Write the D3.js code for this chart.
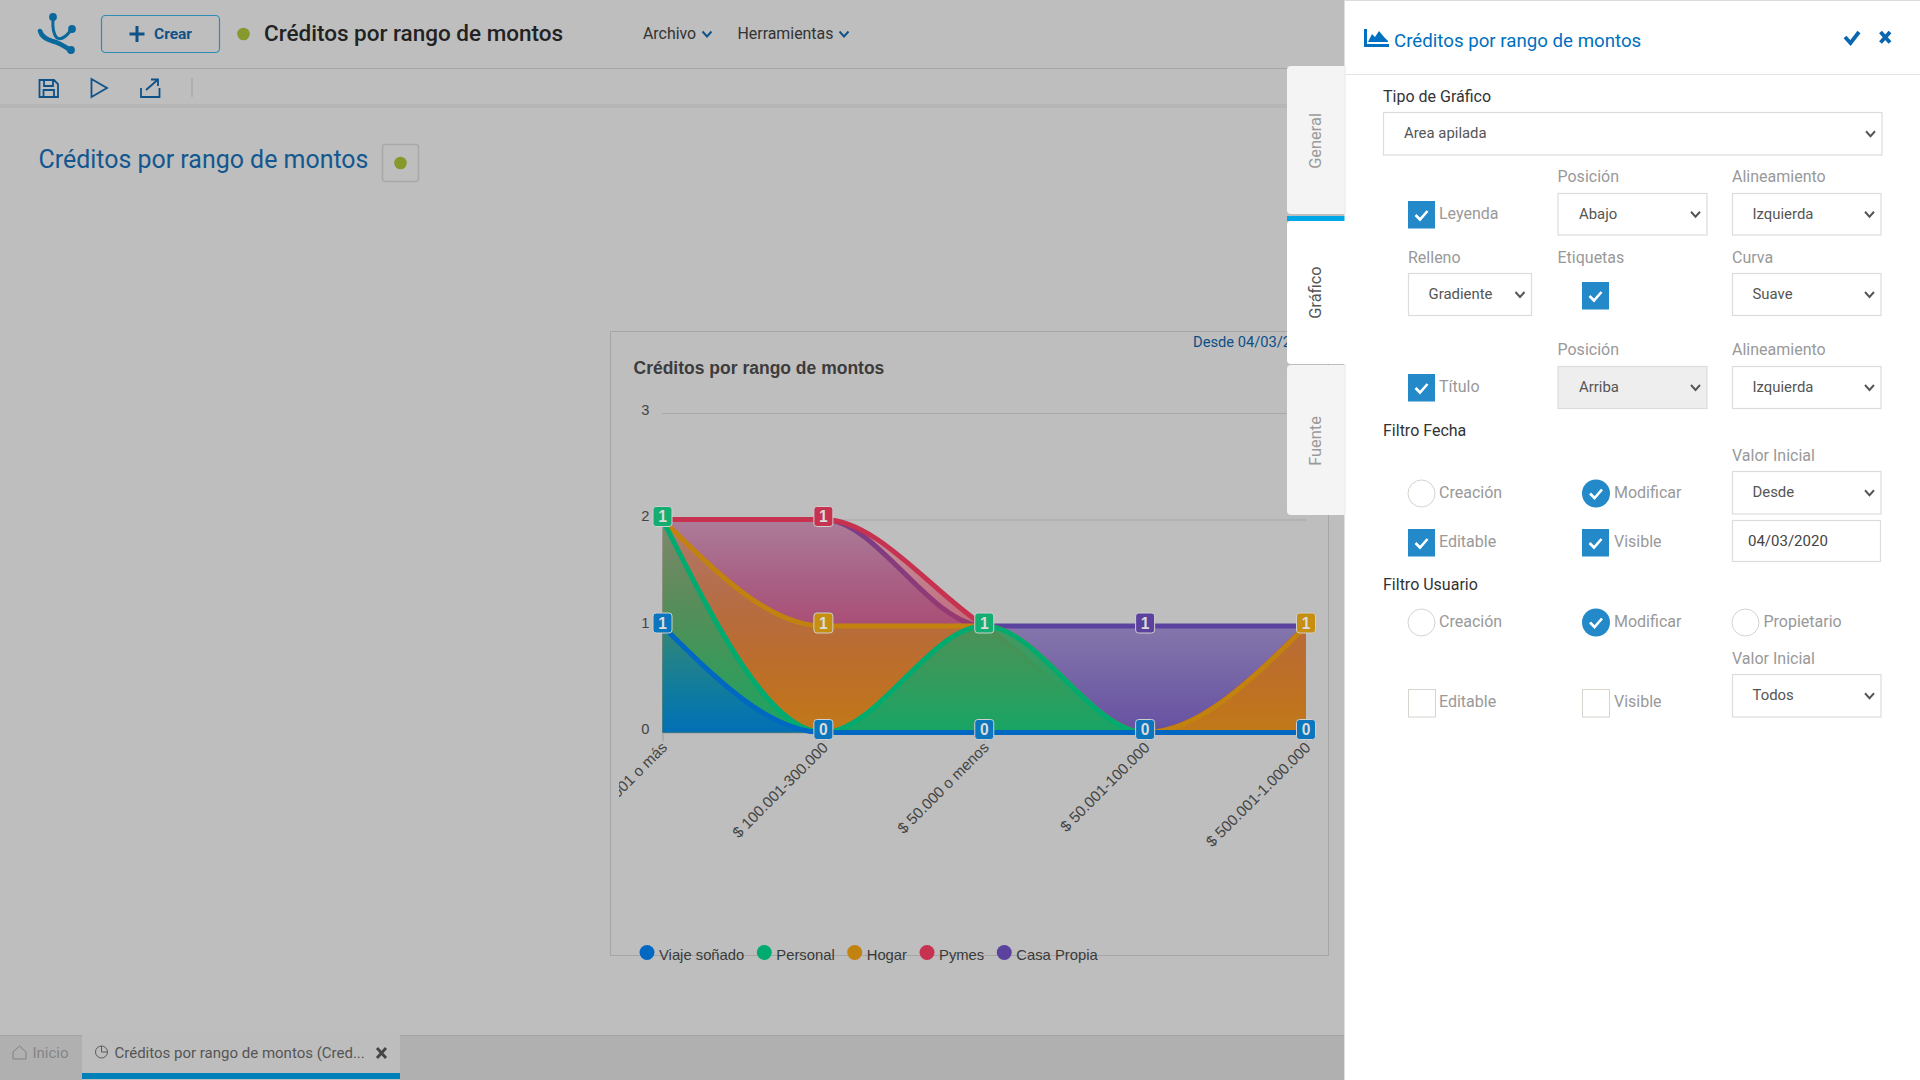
<!DOCTYPE html>
<html>
<head>
<meta charset="utf-8">
<script src="https://cdnjs.cloudflare.com/ajax/libs/d3/7.8.5/d3.min.js"></script>
<style>
  html, body { margin: 0; padding: 0; background: #bebebe; overflow: hidden; }
  svg { display: block; font-family: Roboto, sans-serif; }
  .chart text { font-family: "Liberation Sans", Arial, sans-serif; }
</style>
</head>
<body>
<div id="page"></div>
<script>
const svg = d3.select('#page').append('svg').attr('width', 1920).attr('height', 1080);
const defs = svg.append('defs');

// chart data, one row per category
const keys = ['Viaje soñado', 'Personal', 'Hogar', 'Pymes', 'Casa Propia'];
const colors = { 'Viaje soñado': '#0068c2', 'Personal': '#00ab70', 'Hogar': '#c2820f', 'Pymes': '#c6324f', 'Casa Propia': '#5a429e' };
const badgeColors = { 'Viaje soñado': '#0b75bd', 'Personal': '#14ad72', 'Hogar': '#c68f10', 'Pymes': '#c6324f', 'Casa Propia': '#5a429e' };
const dataset = [
  { cat: '$ 1.000.001 o más',   'Viaje soñado': 1, 'Personal': 1, 'Hogar': 0, 'Pymes': 0, 'Casa Propia': 0 },
  { cat: '$ 100.001-300.000',   'Viaje soñado': 0, 'Personal': 0, 'Hogar': 1, 'Pymes': 1, 'Casa Propia': 0 },
  { cat: '$ 50.000 o menos',    'Viaje soñado': 0, 'Personal': 1, 'Hogar': 0, 'Pymes': 0, 'Casa Propia': 0 },
  { cat: '$ 50.001-100.000',    'Viaje soñado': 0, 'Personal': 0, 'Hogar': 0, 'Pymes': 0, 'Casa Propia': 1 },
  { cat: '$ 500.001-1.000.000', 'Viaje soñado': 0, 'Personal': 0, 'Hogar': 1, 'Pymes': 0, 'Casa Propia': 0 }
];

// ---------- page behind the panel ----------
const back = svg.append('g');
back.append('rect').attr('width', 1920).attr('height', 1080).attr('fill', '#bebebe');

function label(g, x, y, txt, size, color, weight) {
  return g.append('text').attr('x', x).attr('y', y).attr('dy', '0.35em')
    .attr('font-size', size).attr('fill', color).attr('font-weight', weight || 400).text(txt);
}

back.append('rect').attr('x', 0).attr('y', 104).attr('width', 1344).attr('height', 4).attr('fill', '#b6b6b6');
back.append('rect').attr('x', 0).attr('y', 68).attr('width', 1344).attr('height', 1).attr('fill', '#a6a6a6');

// logo
const logo = back.append('g').attr('stroke', '#0a689c').attr('fill', 'none').attr('stroke-width', 3).attr('stroke-linecap', 'round');
logo.append('path').attr('d', 'M53 19 Q52 33 57 38 Q63 41 71 30');
logo.append('path').attr('stroke-width', 4.6).attr('d', 'M40 31 Q42 38 52 41 Q60 43 70 50');
logo.selectAll('circle').data([[53, 17], [72, 29], [71, 50]]).enter().append('circle')
  .attr('cx', d => d[0]).attr('cy', d => d[1]).attr('r', 2.4).attr('fill', '#0a689c');

back.append('rect').attr('x', 101.5).attr('y', 15.5).attr('width', 118).attr('height', 37).attr('rx', 4)
  .attr('fill', 'none').attr('stroke', '#2f8db5').attr('stroke-width', 1.2);
back.append('path').attr('d', 'M137 26V42M129.5 34H144.5').attr('stroke', '#0f5288').attr('stroke-width', 3).attr('fill', 'none');
label(back, 154, 34, 'Crear', 15.5, '#0f5288', 700);
back.append('circle').attr('cx', 243.5).attr('cy', 34).attr('r', 6.3).attr('fill', '#86992d');
label(back, 264, 33.5, 'Créditos por rango de montos', 22.5, '#222', 500);
label(back, 643, 33.5, 'Archivo', 15.9, '#333');
label(back, 737.5, 33.5, 'Herramientas', 15.9, '#333');
function chevron(g, cx, cy, color) {
  g.append('path').attr('d', `M${cx - 4.5} ${cy - 2.5}L${cx} ${cy + 2.5}L${cx + 4.5} ${cy - 2.5}`)
    .attr('fill', 'none').attr('stroke', color).attr('stroke-width', 1.9);
}
chevron(back, 707, 34, '#0f5288');
chevron(back, 844, 34, '#0f5288');

// toolbar icons
const tools = back.append('g').attr('fill', 'none').attr('stroke', '#0f5288').attr('stroke-width', 1.8);
tools.append('path').attr('d', 'M39.5 80H54L58 84V97H39.5ZM44 80V86H53V80M43.5 97V90H54V97');
tools.append('path').attr('d', 'M91.5 79L107 88L91.5 97Z');
tools.append('path').attr('d', 'M141 88V97H159.5V88M146 90L158 79.5M151 79.5H158V86');
back.append('rect').attr('x', 191.5).attr('y', 78).attr('width', 1).attr('height', 19).attr('fill', '#a0a0a0');

label(back, 38.5, 159.5, 'Créditos por rango de montos', 24.95, '#12578f');
back.append('rect').attr('x', 382.5).attr('y', 144.5).attr('width', 36).attr('height', 37).attr('rx', 3)
  .attr('fill', 'none').attr('stroke', '#a8a8a8').attr('stroke-width', 1.5);
back.append('circle').attr('cx', 400.5).attr('cy', 163).attr('r', 6.3).attr('fill', '#86992d');

// ---------- chart ----------
const chart = back.append('g').attr('class', 'chart');
chart.append('rect').attr('x', 610.5).attr('y', 331.5).attr('width', 718).attr('height', 624)
  .attr('fill', 'none').attr('stroke', '#a6a6a6');
defs.append('clipPath').attr('id', 'chartClip').append('rect')
  .attr('x', 619).attr('y', 332).attr('width', 708).attr('height', 622);

chart.append('text').attr('x', 633.5).attr('y', 368).attr('dy', '0.35em')
  .attr('font-size', 17.5).attr('font-weight', 700).attr('fill', '#3c3c3c').text('Créditos por rango de montos');
chart.append('text').attr('x', 1193).attr('y', 342).attr('dy', '0.35em')
  .attr('font-size', 14.7).attr('fill', '#0c4f87').style('font-family', 'Roboto').text('Desde 04/03/2020');

const xScale = d3.scalePoint().domain(dataset.map(d => d.cat)).range([662.5, 1306]);
const yScale = d3.scaleLinear().domain([0, 3]).range([732.5, 413]);

const yAxis = chart.append('g').attr('transform', 'translate(662.5,0)')
  .call(d3.axisLeft(yScale).tickValues([0, 1, 2, 3]).tickFormat(d3.format('d')).tickSize(-643.5).tickPadding(13));
yAxis.select('.domain').remove();
yAxis.selectAll('line').attr('stroke', '#a8a8a8');
yAxis.selectAll('text').attr('font-size', 14.7).attr('fill', '#444').attr('dy', '0.1em').attr('font-family', null);

const xAxis = chart.append('g').attr('clip-path', 'url(#chartClip)').append('g').attr('transform', 'translate(0,732.5)')
  .call(d3.axisBottom(xScale).tickSize(9));
xAxis.select('.domain').attr('stroke', '#a8a8a8');
xAxis.selectAll('line').attr('stroke', '#a8a8a8');
xAxis.selectAll('text').attr('font-size', 15.2).attr('fill', '#444').attr('font-family', null)
  .attr('text-anchor', 'end').attr('y', 0).attr('dy', 0)
  .attr('transform', 'translate(5,16) rotate(-45)');

const stacked = d3.stack().keys(keys)(dataset);

// every fill runs down to the baseline, so the colours build up under the top series
const area = d3.area().curve(d3.curveMonotoneX)
  .x(d => xScale(d.data.cat)).y0(yScale(0)).y1(d => yScale(d[1]));
const line = d3.line().curve(d3.curveMonotoneX)
  .x(d => xScale(d.data.cat)).y(d => yScale(d[1]));

stacked.forEach((s, i) => {
  const g = defs.append('linearGradient').attr('id', 'grad' + i).attr('x1', 0).attr('y1', 0).attr('x2', 0).attr('y2', 1);
  g.append('stop').attr('offset', '0%').attr('stop-color', colors[s.key]).attr('stop-opacity', 0.28);
  g.append('stop').attr('offset', '100%').attr('stop-color', colors[s.key]).attr('stop-opacity', 0.88);
});

// first series goes on top, so draw them backwards
const seriesG = chart.selectAll('.serie').data(stacked.slice().reverse()).enter().append('g').attr('class', 'serie');
seriesG.append('path').attr('d', area).attr('fill', d => `url(#grad${d.index})`);
seriesG.append('path').attr('d', line).attr('fill', 'none')
  .attr('stroke', d => colors[d.key]).attr('stroke-width', 5);

// at each stacked height only one label survives: biggest value, then first series
const points = stacked.flatMap(s => s.map(d => ({ key: s.key, index: s.index, cat: d.data.cat, top: d[1], value: d[1] - d[0] })));
const groups = d3.groups(points, d => d.cat + '|' + d.top);
const badges = groups.map(([, pts]) => pts.slice().sort((a, b) => d3.descending(a.value, b.value) || a.index - b.index)[0]);

const badge = chart.selectAll('.badge').data(badges).enter().append('g').attr('class', 'badge')
  .attr('transform', d => `translate(${xScale(d.cat)},${yScale(d.top) - 3})`);
badge.append('rect').attr('x', -9.5).attr('y', -10).attr('width', 19).attr('height', 20).attr('rx', 3)
  .attr('fill', d => badgeColors[d.key]).attr('stroke', '#cfcfcf').attr('stroke-width', 1);
badge.append('text').attr('text-anchor', 'middle').attr('dy', '0.36em').attr('font-size', 15.6)
  .attr('font-weight', 700).attr('fill', '#dcdcdc').text(d => d.value);

// legend
let cursor = 647;
keys.forEach(k => {
  const item = chart.append('g');
  item.append('circle').attr('cx', cursor).attr('cy', 952.5).attr('r', 7.5).attr('fill', colors[k]);
  const t = item.append('text').attr('x', cursor + 12).attr('y', 955).attr('dy', '0.35em')
    .attr('font-size', 14.8).attr('fill', '#3a3a3a').text(k);
  cursor += 12 + t.node().getComputedTextLength() + 20;
});

// ---------- bottom tabs ----------
back.append('rect').attr('x', 0).attr('y', 1035).attr('width', 1344).attr('height', 45).attr('fill', '#b0b0b0');
back.append('rect').attr('x', 0).attr('y', 1035).attr('width', 1344).attr('height', 1).attr('fill', '#a4a4a4');
back.append('rect').attr('x', 82).attr('y', 1034).attr('width', 318).attr('height', 46).attr('fill', '#bdbdbd');
back.append('rect').attr('x', 82).attr('y', 1073).attr('width', 318).attr('height', 6).attr('fill', '#0080b8');
back.append('path').attr('d', 'M13 1052L19.5 1046L26 1052V1059H13Z').attr('fill', 'none').attr('stroke', '#808080').attr('stroke-width', 1);
label(back, 32.5, 1053, 'Inicio', 15, '#858585');
back.append('circle').attr('cx', 101.5).attr('cy', 1052).attr('r', 6).attr('fill', 'none').attr('stroke', '#5c5c5c').attr('stroke-width', 1);
back.append('path').attr('d', 'M101.5 1046V1052H107.5').attr('fill', 'none').attr('stroke', '#5c5c5c').attr('stroke-width', 1);
label(back, 114.5, 1053, 'Créditos por rango de montos (Cred...', 15, '#555');
back.append('path').attr('d', 'M377 1048L386 1058M386 1048L377 1058').attr('stroke', '#444').attr('stroke-width', 2.8);

// ---------- side panel ----------
const panel = svg.append('g');

// vertical tabs sit behind the panel edge
[
  { y: 66, h: 148, fill: '#f3f4f3', txt: 'General', color: '#9a9a9a' },
  { y: 221, h: 143, fill: '#ffffff', txt: 'Gráfico', color: '#555' },
  { y: 365, h: 150, fill: '#f3f4f3', txt: 'Fuente', color: '#9a9a9a' }
].forEach(t => {
  panel.append('rect').attr('x', 1287).attr('y', t.y).attr('width', 62).attr('height', t.h).attr('rx', 4).attr('fill', t.fill);
  panel.append('text').attr('transform', `translate(1315.5,${t.y + t.h / 2 + (t.txt === 'Gráfico' ? 0 : 1)}) rotate(-90)`)
    .attr('text-anchor', 'middle').attr('dy', '0.35em').attr('font-size', 16.4).attr('fill', t.color).text(t.txt);
});
panel.append('rect').attr('x', 1287).attr('y', 216).attr('width', 58).attr('height', 5).attr('fill', '#00a8e8');

panel.append('rect').attr('x', 1344.5).attr('y', 0).attr('width', 576).attr('height', 1080).attr('fill', '#fff');
panel.append('rect').attr('x', 1344.5).attr('y', 66).attr('width', 1).attr('height', 148).attr('fill', '#e6e6e6');
panel.append('rect').attr('x', 1344.5).attr('y', 365).attr('width', 1).attr('height', 150).attr('fill', '#e6e6e6');
panel.append('rect').attr('x', 1344.5).attr('y', 0).attr('width', 576).attr('height', 1).attr('fill', '#dcdcdc');
panel.append('rect').attr('x', 1344.5).attr('y', 74).attr('width', 576).attr('height', 1).attr('fill', '#e4e4e4');
panel.append('path').attr('d', 'M1364 29V47H1389V44H1367V29ZM1368 42L1372 34L1375 37L1379 31L1384 37L1388 41V42Z').attr('fill', '#0070c0');
label(panel, 1394, 40.5, 'Créditos por rango de montos', 18.7, '#0070c0');
panel.append('path').attr('d', 'M1845 37L1850.5 43L1859 32').attr('fill', 'none').attr('stroke', '#0b66b0').attr('stroke-width', 3.8);
panel.append('path').attr('d', 'M1880.5 32L1890 42.5M1890 32L1880.5 42.5').attr('stroke', '#0b66b0').attr('stroke-width', 3.8);

// form labels
[
  [1383, 96.8, 'Tipo de Gráfico', '#333'], [1383, 430.8, 'Filtro Fecha', '#333'], [1383, 584.8, 'Filtro Usuario', '#333'],
  [1557.5, 176.8, 'Posición', '#999'], [1732, 176.8, 'Alineamiento', '#999'],
  [1408, 257.8, 'Relleno', '#999'], [1557.5, 257.8, 'Etiquetas', '#999'], [1732, 257.8, 'Curva', '#999'],
  [1557.5, 349.8, 'Posición', '#999'], [1732, 349.8, 'Alineamiento', '#999'],
  [1732, 455.8, 'Valor Inicial', '#999'], [1732, 658.8, 'Valor Inicial', '#999'],
  [1439, 213.5, 'Leyenda', '#999'], [1439, 386, 'Título', '#999'],
  [1439, 492.5, 'Creación', '#999'], [1614, 492.5, 'Modificar', '#999'],
  [1439, 541.5, 'Editable', '#999'], [1614, 541.5, 'Visible', '#999'],
  [1439, 621.5, 'Creación', '#999'], [1614, 621.5, 'Modificar', '#999'], [1763.5, 621.5, 'Propietario', '#999'],
  [1439, 701.5, 'Editable', '#999'], [1614, 701.5, 'Visible', '#999']
].forEach(d => label(panel, d[0], d[1], d[2], 16, d[3]));

// selects
[
  [1383, 112, 498.5, 42.5, 'Area apilada', 1404],
  [1557.5, 193, 149, 41.5, 'Abajo', 1579],
  [1732, 193, 148.5, 41.5, 'Izquierda', 1752.5],
  [1408, 273, 123, 42, 'Gradiente', 1428.5],
  [1732, 273, 148.5, 42, 'Suave', 1752.5],
  [1557.5, 366, 149, 42, 'Arriba', 1579, '#eeeeee'],
  [1732, 366, 148.5, 42, 'Izquierda', 1752.5],
  [1732, 471, 148.5, 42.5, 'Desde', 1752.5],
  [1732, 674, 148.5, 42.5, 'Todos', 1752.5]
].forEach(d => {
  panel.append('rect').attr('x', d[0] + 0.5).attr('y', d[1] + 0.5).attr('width', d[2]).attr('height', d[3])
    .attr('fill', d[6] || '#fff').attr('stroke', '#dcdcdc').attr('stroke-width', 1.2);
  label(panel, d[5], d[1] + d[3] / 2 - 0.3, d[4], 14.9, '#555');
  chevron(panel, d[0] + d[2] - 11, d[1] + d[3] / 2 + 0.5, '#555');
});
panel.append('rect').attr('x', 1732.5).attr('y', 520.5).attr('width', 148).attr('height', 41)
  .attr('fill', '#fff').attr('stroke', '#dcdcdc').attr('stroke-width', 1.2);
label(panel, 1748, 540.5, '04/03/2020', 15, '#444');

// checkboxes and radios
function tick(cx, cy) {
  panel.append('path').attr('d', `M${cx - 6} ${cy}L${cx - 1.5} ${cy + 4.5}L${cx + 6} ${cy - 4}`)
    .attr('fill', 'none').attr('stroke', '#fff').attr('stroke-width', 2.6);
}
[[1408, 201, 1], [1582, 282, 1], [1408, 374, 1], [1408, 529, 1], [1582, 529, 1], [1408, 689, 0], [1582, 689, 0]].forEach(d => {
  panel.append('rect').attr('x', d[0] + (d[2] ? 0 : 0.5)).attr('y', d[1] + (d[2] ? 0 : 0.5)).attr('width', 27).attr('height', 27.5)
    .attr('fill', d[2] ? '#2389c9' : '#fff').attr('stroke', d[2] ? 'none' : '#d6d4cc');
  if (d[2]) tick(d[0] + 13.5, d[1] + 14);
});
[[1421.5, 493.5, 0], [1596, 493.5, 1], [1421.5, 622.5, 0], [1596, 622.5, 1], [1745.5, 622.5, 0]].forEach(d => {
  panel.append('circle').attr('cx', d[0]).attr('cy', d[1]).attr('r', d[2] ? 14 : 13.5)
    .attr('fill', d[2] ? '#2389c9' : '#fff').attr('stroke', d[2] ? 'none' : '#d6d4cc').attr('stroke-width', 1);
  if (d[2]) tick(d[0], d[1]);
});
</script>
</body>
</html>
